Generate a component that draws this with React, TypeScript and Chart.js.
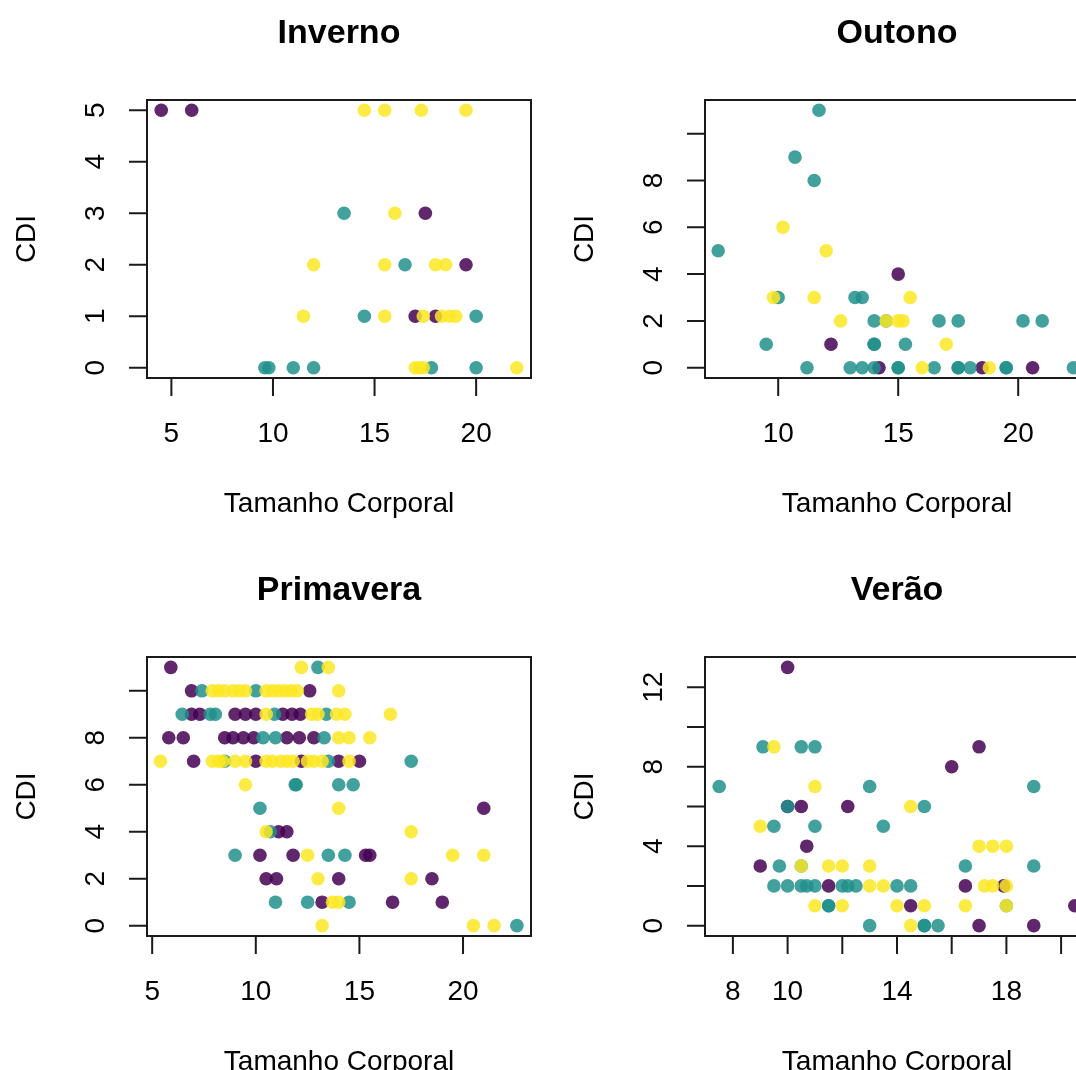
import React, { useEffect, useRef } from "react";
import { Chart, registerables } from "chart.js";

Chart.register(...registerables);

// ---------- Data: [Tamanho Corporal, CDI] per season and group ----------
// group colours: roxo (viridis 1), verde (viridis 2), amarelo (viridis 3)

const invernoRoxo: [number, number][] = [
  [4.5, 5], [6, 5], [17.5, 3], [19.5, 2], [17, 1], [18, 1],
];
const invernoVerde: [number, number][] = [
  [13.5, 3], [16.5, 2], [14.5, 1], [20, 1],
  [9.6, 0], [9.8, 0], [11, 0], [12, 0], [17.8, 0], [20, 0],
];
const invernoAmarelo: [number, number][] = [
  [14.5, 5], [15.5, 5], [17.3, 5], [19.5, 5], [16, 3],
  [12, 2], [15.5, 2], [18, 2], [18.5, 2],
  [11.5, 1], [15.5, 1], [17.4, 1], [18.3, 1], [18.7, 1], [19, 1],
  [17, 0], [17.2, 0], [17.4, 0], [22, 0],
];

const outonoRoxo: [number, number][] = [
  [15, 4], [12.2, 1], [14.2, 0], [18.5, 0], [20.6, 0],
];
const outonoVerde: [number, number][] = [
  [11.7, 11], [10.7, 9], [11.5, 8], [7.5, 5],
  [10, 3], [13.2, 3], [13.5, 3],
  [14, 2], [14.5, 2], [16.7, 2], [17.5, 2], [20.2, 2], [21, 2],
  [9.5, 1], [14, 1], [14, 1], [15.3, 1],
  [11.2, 0], [13, 0], [13.5, 0], [14, 0], [15, 0], [15, 0], [16.5, 0],
  [17.5, 0], [17.5, 0], [18, 0], [19.5, 0], [19.5, 0], [22.3, 0],
];
const outonoAmarelo: [number, number][] = [
  [10.2, 6], [12, 5], [9.8, 3], [11.5, 3], [15.5, 3],
  [12.6, 2], [14.5, 2], [15, 2], [15.2, 2], [17, 1], [16, 0], [18.8, 0],
];

const primaveraRoxo: [number, number][] = [
  [5.9, 11], [6.9, 10], [12.6, 10],
  [6.9, 9], [7.3, 9], [9, 9], [9.5, 9], [10, 9], [11.3, 9], [11.75, 9], [12.15, 9],
  [5.8, 8], [6.5, 8], [8.5, 8], [8.9, 8], [9.4, 8], [9.9, 8], [11.5, 8], [12.1, 8], [12.8, 8],
  [7, 7], [10, 7], [12.2, 7], [14, 7], [15, 7],
  [21, 5], [11.1, 4], [11.5, 4],
  [10.2, 3], [11.8, 3], [15.3, 3], [15.5, 3],
  [10.5, 2], [11, 2], [14, 2], [18.5, 2],
  [13.2, 1], [16.6, 1], [19, 1],
];
const primaveraVerde: [number, number][] = [
  [13, 11], [7.4, 10], [10, 10],
  [6.45, 9], [7.8, 9], [8.05, 9], [10.9, 9], [13.4, 9],
  [10.35, 8], [10.95, 8], [13.3, 8],
  [8.5, 7], [13.5, 7], [17.5, 7],
  [11.9, 6], [11.95, 6], [14, 6], [14.7, 6],
  [10.2, 5], [10.7, 4],
  [9, 3], [13.5, 3], [14.3, 3],
  [10.95, 1], [12.5, 1], [14.5, 1], [22.6, 0],
];
const primaveraAmarelo: [number, number][] = [
  [12.2, 11], [13.5, 11],
  [7.9, 10], [8.2, 10], [8.5, 10], [8.9, 10], [9.2, 10], [9.5, 10], [10.5, 10], [10.8, 10],
  [11.1, 10], [11.4, 10], [11.7, 10], [12, 10], [14, 10],
  [10.5, 9], [12.7, 9], [13, 9], [13.9, 9], [14.3, 9], [16.5, 9],
  [14, 8], [14.5, 8], [15.5, 8],
  [5.4, 7], [7.9, 7], [8.2, 7], [8.4, 7], [9, 7], [9.5, 7], [10.5, 7], [10.8, 7], [11.2, 7],
  [11.5, 7], [11.8, 7], [12.5, 7], [12.8, 7], [13.2, 7], [14.5, 7],
  [9.5, 6], [14, 5], [10.5, 4], [17.5, 4],
  [12.5, 3], [19.5, 3], [21, 3],
  [13, 2], [17.5, 2], [13.7, 1], [14, 1],
  [13.2, 0], [20.5, 0], [21.5, 0],
];

const veraoRoxo: [number, number][] = [
  [10, 13], [17, 9], [16, 8], [10, 6], [10.5, 6], [12.2, 6], [10.7, 4], [9, 3],
  [11.5, 2], [16.5, 2], [17.9, 2], [14.5, 1], [20.5, 1], [17, 0], [19, 0],
];
const veraoVerde: [number, number][] = [
  [9.1, 9], [10.5, 9], [11, 9], [7.5, 7], [13, 7], [19, 7], [10, 6], [15, 6],
  [9.5, 5], [11, 5], [13.5, 5], [9.7, 3], [10.5, 3], [16.5, 3], [19, 3],
  [9.5, 2], [10, 2], [10.5, 2], [10.7, 2], [11, 2], [12, 2], [12.2, 2], [12.5, 2], [14, 2], [14.5, 2],
  [11.5, 1], [11.5, 1], [18, 1], [13, 0], [15, 0], [15, 0], [15.5, 0],
];
const veraoAmarelo: [number, number][] = [
  [9.5, 9], [11, 7], [14.5, 6], [9, 5], [17, 4], [17.5, 4], [18, 4],
  [10.5, 3], [11.5, 3], [12, 3], [13, 3],
  [13, 2], [13.5, 2], [17.2, 2], [17.5, 2], [18, 2],
  [11, 1], [12, 1], [14, 1], [15, 1], [16.5, 1], [18, 1], [14.5, 0],
];

// ---------- Axis ranges and ticks ----------
const invernoXRange = [3.8, 22.7];
const invernoYRange = [-0.2, 5.2];
const invernoXTicks = [5, 10, 15, 20];
const invernoXLabels = [5, 10, 15, 20];
const invernoYTicks = [0, 1, 2, 3, 4, 5];
const invernoYLabels = [0, 1, 2, 3, 4, 5];

const outonoXRange = [6.95, 22.95];
const outonoYRange = [-0.44, 11.44];
const outonoXTicks = [10, 15, 20];
const outonoXLabels = [10, 15, 20];
const outonoYTicks = [0, 2, 4, 6, 8, 10];
const outonoYLabels = [0, 2, 4, 6, 8];

const primaveraXRange = [4.75, 23.28];
const primaveraYRange = [-0.44, 11.44];
const primaveraXTicks = [5, 10, 15, 20];
const primaveraXLabels = [5, 10, 15, 20];
const primaveraYTicks = [0, 2, 4, 6, 8, 10];
const primaveraYLabels = [0, 2, 4, 6, 8];

const veraoXRange = [6.98, 21.02];
const veraoYRange = [-0.52, 13.52];
const veraoXTicks = [8, 10, 12, 14, 16, 18, 20];
const veraoXLabels = [8, 10, 14, 18];
const veraoYTicks = [0, 2, 4, 6, 8, 10, 12];
const veraoYLabels = [0, 4, 8, 12];

const xTitle = "Tamanho Corporal";
const yTitle = "CDI";

// ---------- Styles ----------
const COL_ROXO = "rgba(68,1,84,0.85)";
const COL_VERDE = "rgba(33,144,140,0.85)";
const COL_AMARELO = "rgba(253,231,37,0.85)";
const FONT = '"Liberation Sans", Arial, Helvetica, sans-serif';

type PanelCfg = {
  title: string;
  roxo: [number, number][];
  verde: [number, number][];
  amarelo: [number, number][];
  xRange: number[];
  yRange: number[];
  xTicks: number[];
  xLabels: number[];
  yTicks: number[];
  yLabels: number[];
  left: number;
  top: number;
  w: number;
  h: number;
  pad: { left: number; top: number; right: number; bottom: number };
};

const panels: PanelCfg[] = [
  {
    title: "Inverno", roxo: invernoRoxo, verde: invernoVerde, amarelo: invernoAmarelo,
    xRange: invernoXRange, yRange: invernoYRange, xTicks: invernoXTicks, xLabels: invernoXLabels,
    yTicks: invernoYTicks, yLabels: invernoYLabels,
    left: 0, top: 0, w: 538, h: 535, pad: { left: 147, top: 100, right: 7, bottom: 157 },
  },
  {
    title: "Outono", roxo: outonoRoxo, verde: outonoVerde, amarelo: outonoAmarelo,
    xRange: outonoXRange, yRange: outonoYRange, xTicks: outonoXTicks, xLabels: outonoXLabels,
    yTicks: outonoYTicks, yLabels: outonoYLabels,
    left: 538, top: 0, w: 600, h: 535, pad: { left: 167, top: 100, right: 49, bottom: 157 },
  },
  {
    title: "Primavera", roxo: primaveraRoxo, verde: primaveraVerde, amarelo: primaveraAmarelo,
    xRange: primaveraXRange, yRange: primaveraYRange, xTicks: primaveraXTicks, xLabels: primaveraXLabels,
    yTicks: primaveraYTicks, yLabels: primaveraYLabels,
    left: 0, top: 535, w: 538, h: 535, pad: { left: 147, top: 122, right: 7, bottom: 134 },
  },
  {
    title: "Verão", roxo: veraoRoxo, verde: veraoVerde, amarelo: veraoAmarelo,
    xRange: veraoXRange, yRange: veraoYRange, xTicks: veraoXTicks, xLabels: veraoXLabels,
    yTicks: veraoYTicks, yLabels: veraoYLabels,
    left: 538, top: 535, w: 600, h: 535, pad: { left: 167, top: 122, right: 49, bottom: 134 },
  },
];

// R-style frame, ticks and labels drawn from the chart's scales
const rFramePlugin = {
  id: "rFrame",
  afterDraw(chart: any, _args: any, opts: any) {
    const { ctx, chartArea: a, scales } = chart;
    const xs = scales.x;
    const ys = scales.y;
    ctx.save();
    ctx.strokeStyle = "#1a1a1a";
    ctx.lineWidth = 2;
    ctx.strokeRect(a.left, a.top, a.right - a.left, a.bottom - a.top);
    ctx.beginPath();
    for (const t of opts.xTicks) {
      const px = xs.getPixelForValue(t);
      ctx.moveTo(px, a.bottom);
      ctx.lineTo(px, a.bottom + 18);
    }
    for (const t of opts.yTicks) {
      const py = ys.getPixelForValue(t);
      ctx.moveTo(a.left, py);
      ctx.lineTo(a.left - 18, py);
    }
    ctx.stroke();

    ctx.fillStyle = "#000";
    ctx.font = `28px ${FONT}`;
    ctx.textAlign = "center";
    ctx.textBaseline = "alphabetic";
    for (const t of opts.xLabels) {
      ctx.fillText(String(t), xs.getPixelForValue(t), a.bottom + 64);
    }
    for (const t of opts.yLabels) {
      ctx.save();
      ctx.translate(a.left - 43, ys.getPixelForValue(t));
      ctx.rotate(-Math.PI / 2);
      ctx.fillText(String(t), 0, 0);
      ctx.restore();
    }
    ctx.fillText(xTitle, (a.left + a.right) / 2, a.bottom + 134);
    ctx.save();
    ctx.translate(a.left - 112, (a.top + a.bottom) / 2);
    ctx.rotate(-Math.PI / 2);
    ctx.fillText(yTitle, 0, 0);
    ctx.restore();

    ctx.font = `bold 34px ${FONT}`;
    ctx.fillText(opts.title, (a.left + a.right) / 2, a.top - 57);
    ctx.restore();
  },
};

function toPoints(arr: [number, number][]) {
  return arr.map(([x, y]) => ({ x, y }));
}

function Panel({ cfg }: { cfg: PanelCfg }) {
  const ref = useRef<HTMLCanvasElement>(null);
  useEffect(() => {
    const ds = (data: [number, number][], color: string) => ({
      data: toPoints(data),
      backgroundColor: color,
      borderWidth: 0,
      pointRadius: 6.8,
      pointHoverRadius: 6.8,
      pointStyle: "circle",
    });
    const chart = new Chart(ref.current as HTMLCanvasElement, {
      type: "scatter",
      data: {
        // first dataset is drawn on top
        datasets: [
          ds(cfg.amarelo, COL_AMARELO),
          ds(cfg.verde, COL_VERDE),
          ds(cfg.roxo, COL_ROXO),
        ],
      },
      options: {
        responsive: false,
        animation: false,
        events: [],
        devicePixelRatio: 1,
        layout: { padding: cfg.pad, autoPadding: false },
        plugins: {
          legend: { display: false },
          tooltip: { enabled: false },
          title: { display: false },
          rFrame: {
            title: cfg.title,
            xTicks: cfg.xTicks,
            xLabels: cfg.xLabels,
            yTicks: cfg.yTicks,
            yLabels: cfg.yLabels,
          },
        } as any,
        scales: {
          x: { type: "linear", min: cfg.xRange[0], max: cfg.xRange[1], display: false },
          y: { type: "linear", min: cfg.yRange[0], max: cfg.yRange[1], display: false },
        },
      },
      plugins: [rFramePlugin],
    } as any);
    return () => chart.destroy();
  }, [cfg]);
  return (
    <canvas
      ref={ref}
      width={cfg.w}
      height={cfg.h}
      style={{ position: "absolute", left: cfg.left, top: cfg.top, width: cfg.w, height: cfg.h }}
    />
  );
}

export default function App() {
  return (
    <div
      style={{
        position: "absolute",
        left: 0,
        top: 0,
        width: 1076,
        height: 1070,
        overflow: "hidden",
        background: "#fff",
      }}
    >
      {panels.map((p) => (
        <Panel key={p.title} cfg={p} />
      ))}
    </div>
  );
}
